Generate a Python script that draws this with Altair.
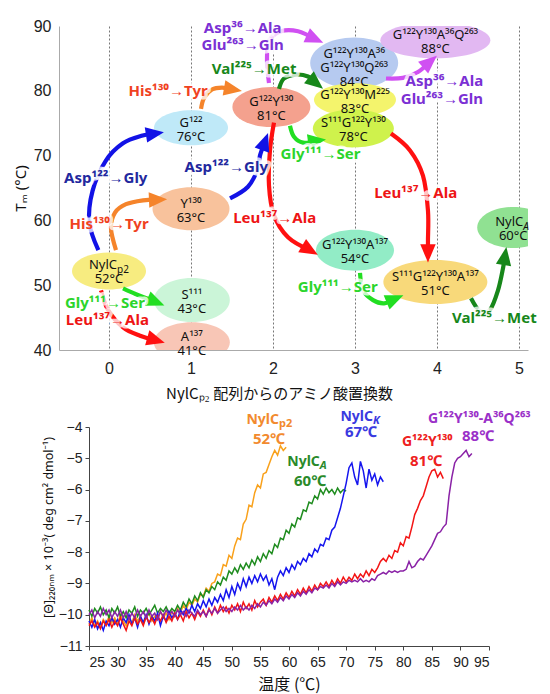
import math
import altair as alt
import pandas as pd

FONT = "Liberation Sans"
TXT = "Noto Sans"
JP = "Noto Sans CJK JP"

# ------------------------------------------------------------------
# Top panel data: variants (x = number of substitutions from NylCp2)
# ------------------------------------------------------------------
var_name = ["NylC", "G¹²²", "Y¹³⁰", "S¹¹¹", "A¹³⁷", "G¹²²Y¹³⁰",
            "G¹²²Y¹³⁰A³⁶\nG¹²²Y¹³⁰Q²⁶³", "G¹²²Y¹³⁰M²²⁵", "S¹¹¹G¹²²Y¹³⁰",
            "G¹²²Y¹³⁰A³⁶Q²⁶³", "G¹²²Y¹³⁰A¹³⁷", "S¹¹¹G¹²²Y¹³⁰A¹³⁷", "NylC"]
var_sub = ["p2", "", "", "", "", "", "", "", "", "", "", "", "A"]
var_tm = [52, 76, 63, 43, 41, 81, 84, 83, 78, 88, 54, 51, 60]
var_x = [0.0, 1.0, 1.0, 1.01, 1.01, 1.98, 2.99, 3.0, 2.98, 3.98, 3.0, 3.98, 4.93]
var_y = [52.2, 74.3, 61.8, 47.7, 41.2, 77.5, 84.3, 78.6, 74.2, 87.8, 55.4, 50.5, 58.9]

# mutation labels
mut_text = ["Asp¹²²→Gly", "His¹³⁰→Tyr", "Gly¹¹¹→Ser", "Leu¹³⁷→Ala",
            "His¹³⁰→Tyr", "Asp¹²²→Gly", "Leu¹³⁷→Ala", "Leu¹³⁷→Ala",
            "Gly¹¹¹→Ser", "Val²²⁵→Met", "Asp³⁶→Ala", "Glu²⁶³→Gln",
            "Asp³⁶→Ala", "Glu²⁶³→Gln", "Gly¹¹¹→Ser", "Val²²⁵→Met"]
mut_kind = ["D122G", "H130Y", "G111S", "L137A", "H130Y", "D122G", "L137A", "L137A",
            "G111S", "V225M", "D36A", "D36A", "D36A", "D36A", "G111S", "V225M"]
mut_x = [-0.04, 0.0, -0.05, -0.02, 0.72, 1.43, 2.02, 3.74, 2.58, 1.77, 1.63, 1.63,
         4.09, 4.06, 2.79, 4.70]
mut_y = [66.6, 59.5, 47.2, 44.6, 80.0, 68.2, 60.3, 64.3, 70.3, 83.4, 89.7, 87.1,
         81.5, 78.8, 49.7, 44.9]

# arrow paths (data coordinates), last point = arrow head
arrow_kind = ["D122G", "H130Y", "G111S", "L137A", "H130Y", "D122G", "L137A",
              "L137A", "G111S", "V225M", "D36A", "D36A", "G111S", "V225M"]
arrow_path = [
    [(-0.13, 55.4), (-0.24, 59.7), (-0.20, 64.6), (-0.04, 69.2), (0.17, 71.9), (0.41, 73.1), (0.56, 73.4)],
    [(0.085, 55.4), (0.024, 58.8), (0.073, 61.2), (0.207, 62.5), (0.415, 63.1), (0.598, 63.2)],
    [(0.171, 49.5), (0.329, 48.6), (0.476, 47.9), (0.573, 47.4)],
    [(-0.098, 49.2), (-0.012, 46.2), (0.171, 43.5), (0.378, 42.2), (0.573, 41.5)],
    [(1.122, 77.2), (1.159, 78.9), (1.256, 80.2), (1.378, 80.5), (1.512, 80.2)],
    [(1.476, 63.4), (1.695, 65.2), (1.817, 68.0), (1.841, 70.0), (1.902, 72.15)],
    [(2.012, 75.1), (1.963, 70.8), (1.951, 65.4), (2.012, 60.8), (2.183, 57.4), (2.451, 55.4)],
    [(3.439, 73.4), (3.671, 70.8), (3.829, 66.9), (3.89, 61.5), (3.89, 56.9), (3.89, 54.9)],
    [(2.207, 74.6), (2.256, 72.9), (2.366, 72.0), (2.537, 72.3)],
    [(2.073, 80.3), (2.134, 81.9), (2.28, 82.5), (2.427, 82.2), (2.524, 81.2)],
    [(1.951, 81.2), (1.927, 84.6), (1.951, 87.7), (2.098, 89.2), (2.305, 89.2), (2.512, 88.0)],
    [(3.378, 81.9), (3.585, 82.0), (3.768, 82.9), (3.915, 84.5)],
    [(3.061, 51.9), (3.098, 49.2), (3.22, 47.7), (3.354, 47.2), (3.488, 47.9)],
    [(4.415, 48.0), (4.524, 46.0), (4.646, 46.2), (4.744, 49.2), (4.805, 52.6), (4.829, 54.5)],
]

# ------------------------------------------------------------------
# Bottom panel data: CD at 220 nm vs temperature (0.5 degC steps from 25)
# ------------------------------------------------------------------
cd_start = 25.0
cd_step = 0.5
cd_nylcp2 = [-10.3, -10.1, -10.35, -10.2, -10.4, -10.15, -10.3, -10.05, -10.25, -10.1,
             -10.3, -10.0, -10.2, -10.35, -10.1, -10.25, -10.0, -10.2, -10.05, -10.3,
             -10.1, -9.95, -10.2, -10.05, -10.15, -9.9, -10.1, -9.95, -10.15, -9.9,
             -10.05, -9.8, -9.95, -9.7, -9.85, -9.6, -9.7, -9.5, -9.6, -9.35,
             -9.4, -9.15, -9.25, -9.0, -8.95, -8.7, -8.75, -8.4, -8.45, -8.1,
             -8.2, -7.8, -7.55, -7.6, -7.1, -6.95, -6.5, -6.55, -6.1, -5.85,
             -5.95, -5.5, -5.45, -5.2, -4.95, -4.75, -4.9, -4.6, -4.75, -4.65]
cd_nylca = [-9.85, -10.05, -9.8, -9.95, -9.75, -10.0, -9.85, -10.1, -9.8, -9.95,
            -9.75, -10.05, -9.9, -10.1, -9.85, -9.95, -9.75, -10.05, -9.85, -9.95,
            -9.8, -10.0, -9.85, -9.7, -9.95, -9.8, -9.9, -9.75, -9.95, -9.8,
            -9.9, -9.7, -9.85, -9.6, -9.75, -9.5, -9.65, -9.4, -9.55, -9.3,
            -9.45, -9.2, -9.3, -9.1, -9.2, -8.95, -9.05, -8.8, -8.9, -8.6,
            -8.7, -8.5, -8.65, -8.4, -8.55, -8.35, -8.5, -8.25, -8.4, -8.15,
            -8.3, -8.05, -8.2, -7.95, -8.05, -7.75, -7.85, -7.55, -7.6, -7.3,
            -7.4, -7.1, -7.2, -6.9, -6.95, -6.65, -6.7, -6.4, -6.45, -6.2,
            -6.3, -6.0, -6.15, -5.95, -6.1, -6.0, -6.15, -5.95, -6.1, -6.0, -6.05]
cd_nylck = [-10.2, -10.4, -10.15, -10.45, -10.25, -10.5, -10.2, -10.35, -10.1, -10.3,
            -10.15, -10.4, -10.1, -10.25, -10.0, -10.3, -10.1, -10.4, -10.05, -10.25,
            -10.0, -10.3, -10.05, -10.2, -9.95, -10.35, -10.05, -10.2, -9.9, -10.1,
            -9.95, -10.15, -9.85, -10.0, -9.8, -9.95, -9.7, -9.9, -9.65, -9.8,
            -9.55, -9.75, -9.5, -9.7, -9.45, -9.6, -9.35, -9.55, -9.2, -9.45,
            -9.1, -9.35, -9.0, -9.2, -8.85, -9.1, -8.8, -9.0, -8.75, -8.95,
            -8.7, -8.9, -8.75, -9.05, -8.85, -9.2, -8.8, -8.6, -8.75, -8.5,
            -8.65, -8.4, -8.55, -8.3, -8.4, -8.2, -8.3, -8.05, -8.15, -7.9,
            -8.0, -7.75, -7.8, -7.55, -7.6, -7.3, -7.2, -6.9, -6.6, -6.2,
            -5.8, -5.3, -5.15, -5.6, -5.85, -5.1, -5.4, -5.95, -5.35, -5.7,
            -5.5, -5.85, -5.6, -5.75]
cd_g122y130 = [-10.35, -10.2, -10.4, -10.25, -10.45, -10.2, -10.35, -10.15, -10.4, -10.2,
               -10.35, -10.1, -10.3, -10.5, -10.2, -10.35, -10.1, -10.3, -10.15, -10.35,
               -10.05, -10.25, -10.1, -10.3, -10.05, -10.2, -10.0, -10.25, -10.05, -10.2,
               -9.95, -10.15, -10.0, -10.2, -9.9, -10.1, -9.95, -10.15, -9.9, -10.05,
               -9.85, -10.05, -9.8, -10.0, -9.75, -9.95, -9.7, -9.9, -9.75, -9.95,
               -9.7, -9.85, -9.65, -9.9, -9.6, -9.8, -9.65, -9.85, -9.55, -9.75,
               -9.6, -9.5, -9.7, -9.45, -9.6, -9.4, -9.55, -9.35, -9.5, -9.3,
               -9.45, -9.25, -9.4, -9.2, -9.35, -9.15, -9.3, -9.1, -9.25, -9.05,
               -9.2, -9.0, -9.1, -8.95, -9.1, -8.9, -9.05, -8.85, -9.0, -8.8,
               -8.95, -8.8, -8.9, -8.7, -8.85, -8.7, -8.8, -8.6, -8.75, -8.55,
               -8.65, -8.5, -8.3, -8.2, -8.3, -8.1, -8.2, -7.95, -8.0, -7.7,
               -7.8, -7.5, -7.55, -7.2, -6.8, -6.6, -6.35, -6.2, -5.9, -5.6,
               -5.4, -5.35, -5.6, -5.45, -5.65]
cd_a36q263 = [-10.0, -9.85, -10.1, -9.9, -10.05, -9.8, -10.0, -9.85, -10.1, -9.9,
              -10.05, -9.85, -10.1, -9.9, -10.15, -9.95, -10.1, -9.85, -10.05, -9.9,
              -10.1, -9.85, -10.05, -9.95, -10.15, -9.9, -10.05, -9.85, -10.0, -9.9,
              -10.05, -9.85, -10.0, -9.9, -10.05, -9.85, -9.95, -10.05, -9.85, -10.0,
              -9.9, -10.05, -9.85, -9.95, -9.8, -9.95, -9.85, -9.75, -9.9, -9.8,
              -9.9, -9.75, -9.85, -9.7, -9.85, -9.75, -9.85, -9.7, -9.8, -9.65,
              -9.75, -9.6, -9.7, -9.55, -9.65, -9.5, -9.6, -9.45, -9.55, -9.4,
              -9.5, -9.35, -9.45, -9.3, -9.4, -9.25, -9.35, -9.2, -9.3, -9.15,
              -9.2, -9.1, -9.15, -9.05, -9.15, -9.0, -9.1, -8.95, -9.05, -8.95,
              -9.0, -8.9, -8.95, -8.9, -8.95, -8.85, -8.95, -8.9, -8.95, -8.85,
              -8.9, -8.75, -8.7, -8.65, -8.7, -8.6, -8.65, -8.6, -8.65, -8.6,
              -8.6, -8.55, -8.3, -8.5, -8.45, -8.3, -8.2, -8.25, -8.1, -7.95,
              -7.8, -7.6, -7.4, -7.35, -7.2, -7.1, -6.2, -5.6, -5.15, -5.0,
              -4.95, -4.85, -4.75, -4.95, -4.85]

series_name = ["NylCp2", "NylCA", "NylCK", "G122Y130", "A36Q263"]
series_vals = [cd_nylcp2, cd_nylca, cd_nylck, cd_g122y130, cd_a36q263]

# labels of bottom curves
cdlab_main = ["NylC", "NylC", "NylC", "G¹²²Y¹³⁰", "G¹²²Y¹³⁰-A³⁶Q²⁶³"]
cdlab_sub = ["p2", "A", "K", "", ""]
cdlab_tm = ["52℃", "60℃", "67℃", "81℃", "88℃"]
cdlab_T = [56.5, 63.3, 72.6, 84.2, 93.3]
cdlab_v = [-3.78, -5.12, -3.68, -4.48, -3.74]
cdlab_tmT = [56.5, 63.7, 72.6, 84.0, 93.1]
cdlab_tmv = [-4.38, -5.73, -4.16, -5.09, -4.29]

# ------------------------------------------------------------------
# Styles
# ------------------------------------------------------------------
ell_w = [74, 74, 77, 76, 76, 78, 88, 82, 81, 110, 78, 104, 72]
ell_h = [37, 35, 43, 44, 40, 40, 51, 33, 38, 36, 41, 44, 41]
ell_fill = ["#f7ec80", "#bfe9f8", "#f8c29c", "#cbf5d8", "#f8c6b6", "#f4a18e",
            "#b6caf0", "#f4f46c", "#cff24c", "#e2b8f2", "#92ecc6", "#f8d97a", "#90e192"]
ell_order = [1, 2, 3, 4, 5, 6, 7, 8, 9, 10, 11, 12, 13]
kind_label_color = {"D122G": "#22289e", "H130Y": "#f0421f", "G111S": "#2bd52b",
                    "L137A": "#ee1414", "V225M": "#17871a", "D36A": "#7b30d4"}
kind_arrow_color = {"D122G": "#1212e6", "H130Y": "#f5842b", "G111S": "#22de22",
                    "L137A": "#ff1010", "V225M": "#17871a", "D36A": "#d050f2"}
series_color = ["#f9a11b", "#1f8c1f", "#1515ee", "#f31515", "#8a22a6"]
cdlab_color = ["#f28a2e", "#2a8a2a", "#3a3ae0", "#ee2020", "#9a30c8"]

TOP_W, TOP_H = 469, 324
XDOM = [-0.61, 5.11]
YDOM = [40, 90]
BOT_W, BOT_H = 400, 219
LH = 14          # line height of ellipse texts
EFS = 13         # ellipse font size


def ellipse_path(a):
    k = 0.5523
    return (f"M-1,0 C-1,{-k*a:.4f} {-k:.4f},{-a:.4f} 0,{-a:.4f} "
            f"C{k:.4f},{-a:.4f} 1,{-k*a:.4f} 1,0 "
            f"C1,{k*a:.4f} {k:.4f},{a:.4f} 0,{a:.4f} "
            f"C{-k:.4f},{a:.4f} -1,{k*a:.4f} -1,0 Z")


HEAD = "M1,0 L-1,-0.85 L-1,0.85 Z"

# ------------------------------------------------------------------
# Top panel
# ------------------------------------------------------------------
X = alt.X("x:Q", scale=alt.Scale(domain=XDOM, nice=False, zero=False),
          axis=alt.Axis(values=[0, 1, 2, 3, 4, 5], grid=True, gridDash=[2, 2],
                        gridColor="#777", gridWidth=1, ticks=False,
                        labelFont=FONT, labelFontSize=16, labelColor="#222",
                        labelPadding=10, domainColor="#aaa",
                        title="NylCₚ₂ 配列からのアミノ酸置換数", titleFont=JP,
                        titleFontSize=15, titleFontWeight="normal",
                        titleColor="#111", titlePadding=10, titleX=220))
Y = alt.Y("y:Q", scale=alt.Scale(domain=YDOM, nice=False, zero=False),
          axis=alt.Axis(values=[40, 50, 60, 70, 80, 90], grid=False, ticks=False,
                        labelFont=FONT, labelFontSize=16, labelColor="#222",
                        labelPadding=8, domainColor="#aaa",
                        title="Tₘ (°C)", titleFont=TXT, titleFontSize=15,
                        titleFontWeight="normal", titleColor="#111",
                        titlePadding=5))

ell_df = pd.DataFrame({
    "x": var_x, "y": var_y,
    "shape": [ellipse_path(h / w) for w, h in zip(ell_w, ell_h)],
    "size": [w * w for w in ell_w],
    "fill": ell_fill, "k": ell_order,
})
ellipses = alt.Chart(ell_df).mark_point(filled=True, opacity=1, strokeWidth=0,
                                        clip=True).encode(
    x=X, y=Y,
    shape=alt.Shape("shape:N", scale=None),
    size=alt.Size("size:Q", scale=None),
    color=alt.Color("fill:N", scale=None),
    order=alt.Order("k:Q"),
)

sx = TOP_W / (XDOM[1] - XDOM[0])
sy = TOP_H / (YDOM[1] - YDOM[0])
line_rows, head_rows = [], []
for aid, (kind, pts) in enumerate(zip(arrow_kind, arrow_path)):
    for i, (px, py) in enumerate(pts):
        line_rows.append({"aid": aid, "i": i, "x": px, "y": py,
                          "color": kind_arrow_color[kind]})
    (x0, y0), (x1, y1) = pts[-2], pts[-1]
    ang = math.degrees(math.atan2(-(y1 - y0) * sy, (x1 - x0) * sx)) % 360
    head_rows.append({"x": x1, "y": y1, "angle": ang, "color": kind_arrow_color[kind]})

arrow_lines = alt.Chart(pd.DataFrame(line_rows)).mark_line(
    interpolate="cardinal", strokeWidth=4.2, strokeCap="butt").encode(
    x=X, y=Y, detail="aid:N", order="i:Q", color=alt.Color("color:N", scale=None))
arrow_heads = alt.Chart(pd.DataFrame(head_rows)).mark_point(
    filled=True, opacity=1, shape=HEAD, size=330, strokeWidth=0).encode(
    x=X, y=Y, angle=alt.Angle("angle:Q", scale=None),
    color=alt.Color("color:N", scale=None))

mut_df = pd.DataFrame({"x": mut_x, "y": mut_y, "t": mut_text,
                       "color": [kind_label_color[k] for k in mut_kind]})
mut_halo = alt.Chart(mut_df).mark_text(
    font=TXT, fontSize=15, fontWeight="bold", color="white", stroke="white",
    strokeWidth=7, strokeOpacity=0.75, strokeJoin="round", baseline="middle").encode(
    x=X, y=Y, text="t:N")
mut_lab = alt.Chart(mut_df).mark_text(
    font=TXT, fontSize=15, fontWeight="bold", baseline="middle").encode(
    x=X, y=Y, text="t:N", color=alt.Color("color:N", scale=None))

# ellipse texts (first line drawn at y + dy, following lines below)
text_layers = []
for nlines, dy in [(2, -5), (3, -9)]:
    idx = [i for i, s in enumerate(var_sub)
           if s == "" and var_name[i].count("\n") + 2 == nlines]
    d = pd.DataFrame({"x": [var_x[i] for i in idx], "y": [var_y[i] for i in idx],
                      "t": [var_name[i] + "\n" + f"{var_tm[i]}°C" for i in idx]})
    text_layers.append(alt.Chart(d).mark_text(
        font=TXT, fontSize=EFS, lineHeight=LH, lineBreak="\n", baseline="middle",
        dy=dy, color="#111").encode(x=X, y=Y, text="t:N"))

sub_dx = {"p2": 8, "A": 10}
for i, s in enumerate(var_sub):
    if s == "":
        continue
    d = pd.DataFrame({"x": [var_x[i]], "y": [var_y[i]], "m": [var_name[i]], "s": [s],
                      "tm": [f"{var_tm[i]}°C"]})
    text_layers.append(alt.Chart(d).mark_text(
        font=TXT, fontSize=EFS, align="right", baseline="middle", dx=sub_dx[s], dy=-6,
        color="#111").encode(x=X, y=Y, text="m:N"))
    text_layers.append(alt.Chart(d).mark_text(
        font=TXT, fontSize=10, align="left", baseline="middle", dx=sub_dx[s], dy=-1,
        fontStyle="italic" if s == "A" else "normal", color="#111").encode(
        x=X, y=Y, text="s:N"))
    text_layers.append(alt.Chart(d).mark_text(
        font=TXT, fontSize=EFS, baseline="middle", dy=8, color="#111").encode(
        x=X, y=Y, text="tm:N"))

top = alt.layer(ellipses, arrow_lines, arrow_heads, mut_halo, mut_lab,
                *text_layers).properties(width=TOP_W, height=TOP_H)

# ------------------------------------------------------------------
# Bottom panel
# ------------------------------------------------------------------
XB = alt.X("T:Q", scale=alt.Scale(domain=[25, 95], nice=False, zero=False),
           axis=alt.Axis(values=list(range(25, 96, 5)), grid=False, tickSize=4,
                         tickColor="#444", domainColor="#444", labelFont=FONT,
                         labelFontSize=14, labelColor="#222", labelPadding=5,
                         title="温度 (℃)", titleFont=JP, titleFontSize=16,
                         titleFontWeight="normal", titleColor="#111", titlePadding=7))
YB = alt.Y("v:Q", scale=alt.Scale(domain=[-11, -4], nice=False, zero=False),
           axis=alt.Axis(values=list(range(-11, -3)), grid=False, tickSize=4,
                         tickColor="#444", domainColor="#444", labelFont=FONT,
                         labelFontSize=14, labelColor="#222", labelPadding=3,
                         title="[Θ]₂₂₀ₙₘ × 10⁻³( deg cm² dmol⁻¹)", titleFont=TXT,
                         titleFontSize=12.5, titleFontWeight="normal",
                         titleColor="#111", titlePadding=3, titleY=100))

cd_rows = []
for k, (name, vals) in enumerate(zip(series_name, series_vals)):
    for i, v in enumerate(vals):
        cd_rows.append({"s": f"{k}_{name}", "i": i, "T": cd_start + cd_step * i, "v": v,
                        "color": series_color[k]})
cd_lines = alt.Chart(pd.DataFrame(cd_rows)).mark_line(strokeWidth=1.5).encode(
    x=XB, y=YB, detail="s:N", order="i:Q", color=alt.Color("color:N", scale=None))

bl_layers = []
bsub_dx = {"p2": 10, "A": 12, "K": 12}
for k in range(len(cdlab_main)):
    d = pd.DataFrame({"T": [cdlab_T[k]], "v": [cdlab_v[k]], "m": [cdlab_main[k]],
                      "s": [cdlab_sub[k]]})
    dt = pd.DataFrame({"T": [cdlab_tmT[k]], "v": [cdlab_tmv[k]], "t": [cdlab_tm[k]]})
    col = cdlab_color[k]
    if cdlab_sub[k]:
        s = cdlab_sub[k]
        bl_layers.append(alt.Chart(d).mark_text(
            font=TXT, fontSize=14, fontWeight="bold", align="right", baseline="middle",
            dx=bsub_dx[s], color=col).encode(x=XB, y=YB, text="m:N"))
        bl_layers.append(alt.Chart(d).mark_text(
            font=TXT, fontSize=11, fontWeight="bold", align="left", baseline="middle",
            dx=bsub_dx[s], dy=4, fontStyle="normal" if s == "p2" else "italic",
            color=col).encode(x=XB, y=YB, text="s:N"))
    else:
        bl_layers.append(alt.Chart(d).mark_text(
            font=TXT, fontSize=14, fontWeight="bold", baseline="middle",
            color=col).encode(x=XB, y=YB, text="m:N"))
    bl_layers.append(alt.Chart(dt).mark_text(
        font=TXT, fontSize=15, fontWeight="bold", baseline="middle",
        color=col).encode(x=XB, y=YB, text="t:N"))

bottom = alt.layer(cd_lines, *bl_layers).properties(width=BOT_W, height=BOT_H)

spacer = alt.Chart(pd.DataFrame({"a": [0]})).mark_point(opacity=0).encode(
    x=alt.X("a:Q", axis=None), y=alt.Y("a:Q", axis=None)).properties(width=30, height=10)

bottom_row = alt.hconcat(spacer, bottom, spacing=0, bounds="flush")

chart = alt.vconcat(top, bottom_row, spacing=8).properties(
    padding={"left": 5, "top": 10, "right": 0, "bottom": 6}
).configure_view(stroke=None)

chart.save("out.html", embed_options={"renderer": "svg", "actions": False})
